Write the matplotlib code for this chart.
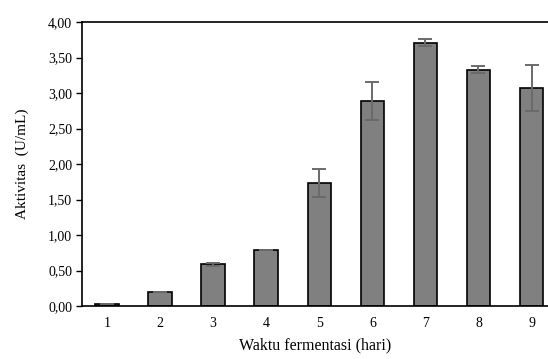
import matplotlib.pyplot as plt
import matplotlib

matplotlib.rcParams.update({'font.family': 'Liberation Serif', 'font.size': 10})

# data
hari = [1, 2, 3, 4, 5, 6, 7, 8, 9]
aktivitas = [0.03, 0.20, 0.59, 0.79, 1.73, 2.89, 3.71, 3.33, 3.07]
galat = [0.0, 0.0, 0.02, 0.0, 0.20, 0.27, 0.05, 0.05, 0.32]
yticks = [0.0, 0.5, 1.0, 1.5, 2.0, 2.5, 3.0, 3.5, 4.0]

fig = plt.figure(figsize=(5.48, 3.59), dpi=100)
ax = fig.add_axes([0.1496, 0.1476, 0.8504, 0.791])

ax.bar(hari, aktivitas, width=0.44, color='#808080', edgecolor='black', linewidth=1.2,
       yerr=galat, error_kw=dict(ecolor='#6a6a6a', elinewidth=1.4, capsize=5, capthick=1.4))

ax.set_xlim(0.53, 9.31)
ax.set_ylim(0, 4)
ax.set_xticks(hari)
ax.set_yticks(yticks)
ax.set_yticklabels([f"{v:.2f}".replace('.', ',') for v in yticks])
ax.tick_params(axis='x', length=0, pad=8, labelsize=10)
ax.tick_params(axis='y', length=4, width=1, pad=3, labelsize=10)

ax.spines['right'].set_visible(False)
for s in ['left', 'bottom', 'top']:
    ax.spines[s].set_linewidth(1.2)

ax.set_xlabel("Waktu fermentasi (hari)", fontsize=11.5, labelpad=5)
ax.set_ylabel("Aktivitas  (U/mL)", fontsize=11, labelpad=14)

plt.savefig("out.png", dpi=100)
